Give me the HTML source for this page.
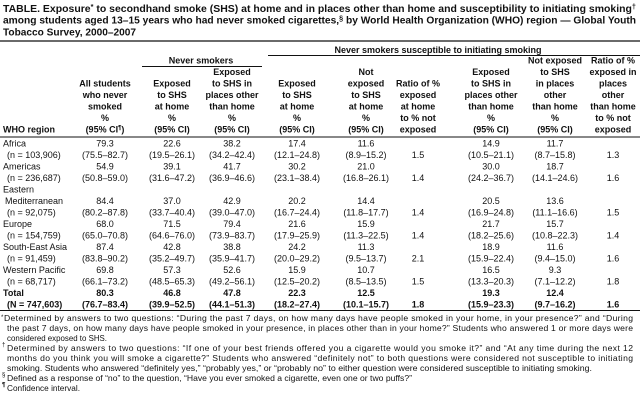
<!DOCTYPE html>
<html><head><meta charset="utf-8">
<style>
html,body{margin:0;padding:0;background:#fff;}
svg{display:block;}
text{font-family:"Liberation Sans",Arial,sans-serif;fill:#111;}
.t{font-size:10px;font-weight:bold;}
.h{font-size:9px;font-weight:bold;text-anchor:middle;}
.b{font-size:9px;}
.c{font-size:9px;text-anchor:middle;}
.f{font-size:8.6px;}
.m{font-size:6px;}
</style></head>
<body>
<svg width="640" height="404" viewBox="0 0 640 404" xmlns="http://www.w3.org/2000/svg">
<!-- Title -->
<text class="t" x="3" y="12" textLength="633" lengthAdjust="spacingAndGlyphs">TABLE. Exposure<tspan font-size="7" dy="-3">*</tspan><tspan dy="3"> to secondhand smoke (SHS) at home and in places other than home and susceptibility to initiating smoking</tspan><tspan font-size="7" dy="-3">†</tspan></text>
<text class="t" x="3" y="23.7" textLength="633" lengthAdjust="spacingAndGlyphs">among students aged 13–15 years who had never smoked cigarettes,<tspan font-size="7" dy="-3">§</tspan><tspan dy="3"> by World Health Organization (WHO) region — Global Youth</tspan></text>
<text class="t" x="3" y="35.3" textLength="133" lengthAdjust="spacingAndGlyphs">Tobacco Survey, 2000–2007</text>

<line x1="0" y1="41" x2="640" y2="41" stroke="#111" stroke-width="1.2"/>

<!-- Spanner headings -->
<text class="h" x="438" y="53">Never smokers susceptible to initiating smoking</text>
<line x1="268" y1="55.5" x2="640" y2="55.5" stroke="#111" stroke-width="1"/>
<text class="h" x="201" y="63.5">Never smokers</text>
<line x1="142" y1="66.5" x2="262" y2="66.5" stroke="#111" stroke-width="1"/>

<!-- Column headers -->
<text class="h" style="text-anchor:start" x="3" y="132.5">WHO region</text>

<text class="h" x="105" y="86.5">All students</text>
<text class="h" x="105" y="98">who never</text>
<text class="h" x="105" y="109.5">smoked</text>
<text class="h" x="105" y="121">%</text>
<text class="h" x="105" y="132.5">(95% CI<tspan font-size="6" dy="-3">¶</tspan><tspan dy="3">)</tspan></text>

<text class="h" x="172" y="86.5">Exposed</text>
<text class="h" x="172" y="98">to SHS</text>
<text class="h" x="172" y="109.5">at home</text>
<text class="h" x="172" y="121">%</text>
<text class="h" x="172" y="132.5">(95% CI)</text>

<text class="h" x="232" y="75">Exposed</text>
<text class="h" x="232" y="86.5">to SHS in</text>
<text class="h" x="232" y="98">places other</text>
<text class="h" x="232" y="109.5">than home</text>
<text class="h" x="232" y="121">%</text>
<text class="h" x="232" y="132.5">(95% CI)</text>

<text class="h" x="297" y="86.5">Exposed</text>
<text class="h" x="297" y="98">to SHS</text>
<text class="h" x="297" y="109.5">at home</text>
<text class="h" x="297" y="121">%</text>
<text class="h" x="297" y="132.5">(95% CI)</text>

<text class="h" x="366" y="75">Not</text>
<text class="h" x="366" y="86.5">exposed</text>
<text class="h" x="366" y="98">to SHS</text>
<text class="h" x="366" y="109.5">at home</text>
<text class="h" x="366" y="121">%</text>
<text class="h" x="366" y="132.5">(95% CI)</text>

<text class="h" x="418" y="86.5">Ratio of %</text>
<text class="h" x="418" y="98">exposed</text>
<text class="h" x="418" y="109.5">at home</text>
<text class="h" x="418" y="121">to % not</text>
<text class="h" x="418" y="132.5">exposed</text>

<text class="h" x="491" y="75">Exposed</text>
<text class="h" x="491" y="86.5">to SHS in</text>
<text class="h" x="491" y="98">places other</text>
<text class="h" x="491" y="109.5">than home</text>
<text class="h" x="491" y="121">%</text>
<text class="h" x="491" y="132.5">(95% CI)</text>

<text class="h" x="555" y="63.5">Not exposed</text>
<text class="h" x="555" y="75">to SHS</text>
<text class="h" x="555" y="86.5">in places</text>
<text class="h" x="555" y="98">other</text>
<text class="h" x="555" y="109.5">than home</text>
<text class="h" x="555" y="121">%</text>
<text class="h" x="555" y="132.5">(95% CI)</text>

<text class="h" x="613" y="63.5">Ratio of %</text>
<text class="h" x="613" y="75">exposed in</text>
<text class="h" x="613" y="86.5">places</text>
<text class="h" x="613" y="98">other</text>
<text class="h" x="613" y="109.5">than home</text>
<text class="h" x="613" y="121">to % not</text>
<text class="h" x="613" y="132.5">exposed</text>

<line x1="0" y1="137" x2="640" y2="137" stroke="#111" stroke-width="1"/>

<!-- Body rows -->
<text class="b" x="3" y="146.3">Africa</text>
<text class="b" x="7" y="157.8">(n = 103,906)</text>
<text class="b" x="3" y="169.3">Americas</text>
<text class="b" x="7" y="180.8">(n = 236,687)</text>
<text class="b" x="3" y="192.3">Eastern</text>
<text class="b" x="5" y="203.8">Mediterranean</text>
<text class="b" x="7" y="215.3">(n = 92,075)</text>
<text class="b" x="3" y="226.8">Europe</text>
<text class="b" x="7" y="238.3">(n = 154,759)</text>
<text class="b" x="3" y="249.8">South-East Asia</text>
<text class="b" x="7" y="261.3">(n = 91,459)</text>
<text class="b" x="3" y="272.8">Western Pacific</text>
<text class="b" x="7" y="284.3">(n = 68,717)</text>
<text class="b" x="3" y="295.8" font-weight="bold">Total</text>
<text class="b" x="7" y="307.3" font-weight="bold">(N = 747,603)</text>

<!-- Africa -->
<text class="c" x="105" y="146.3">79.3</text><text class="c" x="105" y="157.8">(75.5–82.7)</text>
<text class="c" x="172" y="146.3">22.6</text><text class="c" x="172" y="157.8">(19.5–26.1)</text>
<text class="c" x="232" y="146.3">38.2</text><text class="c" x="232" y="157.8">(34.2–42.4)</text>
<text class="c" x="297" y="146.3">17.4</text><text class="c" x="297" y="157.8">(12.1–24.8)</text>
<text class="c" x="366" y="146.3">11.6</text><text class="c" x="366" y="157.8">(8.9–15.2)</text>
<text class="c" x="418" y="157.8">1.5</text>
<text class="c" x="491" y="146.3">14.9</text><text class="c" x="491" y="157.8">(10.5–21.1)</text>
<text class="c" x="555" y="146.3">11.7</text><text class="c" x="555" y="157.8">(8.7–15.8)</text>
<text class="c" x="613" y="157.8">1.3</text>
<!-- Americas -->
<text class="c" x="105" y="169.3">54.9</text><text class="c" x="105" y="180.8">(50.8–59.0)</text>
<text class="c" x="172" y="169.3">39.1</text><text class="c" x="172" y="180.8">(31.6–47.2)</text>
<text class="c" x="232" y="169.3">41.7</text><text class="c" x="232" y="180.8">(36.9–46.6)</text>
<text class="c" x="297" y="169.3">30.2</text><text class="c" x="297" y="180.8">(23.1–38.4)</text>
<text class="c" x="366" y="169.3">21.0</text><text class="c" x="366" y="180.8">(16.8–26.1)</text>
<text class="c" x="418" y="180.8">1.4</text>
<text class="c" x="491" y="169.3">30.0</text><text class="c" x="491" y="180.8">(24.2–36.7)</text>
<text class="c" x="555" y="169.3">18.7</text><text class="c" x="555" y="180.8">(14.1–24.6)</text>
<text class="c" x="613" y="180.8">1.6</text>
<!-- Eastern Mediterranean -->
<text class="c" x="105" y="203.8">84.4</text><text class="c" x="105" y="215.3">(80.2–87.8)</text>
<text class="c" x="172" y="203.8">37.0</text><text class="c" x="172" y="215.3">(33.7–40.4)</text>
<text class="c" x="232" y="203.8">42.9</text><text class="c" x="232" y="215.3">(39.0–47.0)</text>
<text class="c" x="297" y="203.8">20.2</text><text class="c" x="297" y="215.3">(16.7–24.4)</text>
<text class="c" x="366" y="203.8">14.4</text><text class="c" x="366" y="215.3">(11.8–17.7)</text>
<text class="c" x="418" y="215.3">1.4</text>
<text class="c" x="491" y="203.8">20.5</text><text class="c" x="491" y="215.3">(16.9–24.8)</text>
<text class="c" x="555" y="203.8">13.6</text><text class="c" x="555" y="215.3">(11.1–16.6)</text>
<text class="c" x="613" y="215.3">1.5</text>
<!-- Europe -->
<text class="c" x="105" y="226.8">68.0</text><text class="c" x="105" y="238.3">(65.0–70.8)</text>
<text class="c" x="172" y="226.8">71.5</text><text class="c" x="172" y="238.3">(64.6–76.0)</text>
<text class="c" x="232" y="226.8">79.4</text><text class="c" x="232" y="238.3">(73.9–83.7)</text>
<text class="c" x="297" y="226.8">21.6</text><text class="c" x="297" y="238.3">(17.9–25.9)</text>
<text class="c" x="366" y="226.8">15.9</text><text class="c" x="366" y="238.3">(11.3–22.5)</text>
<text class="c" x="418" y="238.3">1.4</text>
<text class="c" x="491" y="226.8">21.7</text><text class="c" x="491" y="238.3">(18.2–25.6)</text>
<text class="c" x="555" y="226.8">15.7</text><text class="c" x="555" y="238.3">(10.8–22.3)</text>
<text class="c" x="613" y="238.3">1.4</text>
<!-- South-East Asia -->
<text class="c" x="105" y="249.8">87.4</text><text class="c" x="105" y="261.3">(83.8–90.2)</text>
<text class="c" x="172" y="249.8">42.8</text><text class="c" x="172" y="261.3">(35.2–49.7)</text>
<text class="c" x="232" y="249.8">38.8</text><text class="c" x="232" y="261.3">(35.9–41.7)</text>
<text class="c" x="297" y="249.8">24.2</text><text class="c" x="297" y="261.3">(20.0–29.2)</text>
<text class="c" x="366" y="249.8">11.3</text><text class="c" x="366" y="261.3">(9.5–13.7)</text>
<text class="c" x="418" y="261.3">2.1</text>
<text class="c" x="491" y="249.8">18.9</text><text class="c" x="491" y="261.3">(15.9–22.4)</text>
<text class="c" x="555" y="249.8">11.6</text><text class="c" x="555" y="261.3">(9.4–15.0)</text>
<text class="c" x="613" y="261.3">1.6</text>
<!-- Western Pacific -->
<text class="c" x="105" y="272.8">69.8</text><text class="c" x="105" y="284.3">(66.1–73.2)</text>
<text class="c" x="172" y="272.8">57.3</text><text class="c" x="172" y="284.3">(48.5–65.3)</text>
<text class="c" x="232" y="272.8">52.6</text><text class="c" x="232" y="284.3">(49.2–56.1)</text>
<text class="c" x="297" y="272.8">15.9</text><text class="c" x="297" y="284.3">(12.5–20.2)</text>
<text class="c" x="366" y="272.8">10.7</text><text class="c" x="366" y="284.3">(8.5–13.5)</text>
<text class="c" x="418" y="284.3">1.5</text>
<text class="c" x="491" y="272.8">16.5</text><text class="c" x="491" y="284.3">(13.3–20.3)</text>
<text class="c" x="555" y="272.8">9.3</text><text class="c" x="555" y="284.3">(7.1–12.2)</text>
<text class="c" x="613" y="284.3">1.8</text>
<!-- Total -->
<g font-weight="bold">
<text class="c" x="105" y="295.8">80.3</text><text class="c" x="105" y="307.3">(76.7–83.4)</text>
<text class="c" x="172" y="295.8">46.8</text><text class="c" x="172" y="307.3">(39.9–52.5)</text>
<text class="c" x="232" y="295.8">47.8</text><text class="c" x="232" y="307.3">(44.1–51.3)</text>
<text class="c" x="297" y="295.8">22.3</text><text class="c" x="297" y="307.3">(18.2–27.4)</text>
<text class="c" x="366" y="295.8">12.5</text><text class="c" x="366" y="307.3">(10.1–15.7)</text>
<text class="c" x="418" y="307.3">1.8</text>
<text class="c" x="491" y="295.8">19.3</text><text class="c" x="491" y="307.3">(15.9–23.3)</text>
<text class="c" x="555" y="295.8">12.4</text><text class="c" x="555" y="307.3">(9.7–16.2)</text>
<text class="c" x="613" y="307.3">1.6</text>
</g>

<line x1="0" y1="310.5" x2="640" y2="310.5" stroke="#111" stroke-width="1"/>

<!-- Footnotes -->
<text class="m" x="1" y="319">*</text>
<text class="f" x="4" y="321" textLength="629" lengthAdjust="spacing">Determined by answers to two questions: “During the past 7 days, on how many days have people smoked in your home, in your presence?” and “During</text>
<text class="f" x="7" y="331" textLength="626" lengthAdjust="spacing">the past 7 days, on how many days have people smoked in your presence, in places other than in your home?” Students who answered 1 or more days were</text>
<text class="f" x="7" y="341" textLength="100" lengthAdjust="spacingAndGlyphs">considered exposed to SHS.</text>
<text class="m" x="2" y="346.5">†</text>
<text class="f" x="7" y="351" textLength="626" lengthAdjust="spacing">Determined by answers to two questions: “If one of your best friends offered you a cigarette would you smoke it?” and “At any time during the next 12</text>
<text class="f" x="7" y="361" textLength="626" lengthAdjust="spacing">months do you think you will smoke a cigarette?” Students who answered “definitely not” to both questions were considered not susceptible to initiating</text>
<text class="f" x="7" y="371" textLength="585" lengthAdjust="spacingAndGlyphs">smoking. Students who answered “definitely yes,” “probably yes,” or “probably no” to either question were considered susceptible to initiating smoking.</text>
<text class="m" x="2" y="376.5">§</text>
<text class="f" x="7" y="381" textLength="405" lengthAdjust="spacingAndGlyphs">Defined as a response of “no” to the question, “Have you ever smoked a cigarette, even one or two puffs?”</text>
<text class="m" x="2" y="386.5" font-weight="bold">¶</text>
<text class="f" x="7" y="391" textLength="73" lengthAdjust="spacingAndGlyphs">Confidence interval.</text>
</svg>
</body></html>
